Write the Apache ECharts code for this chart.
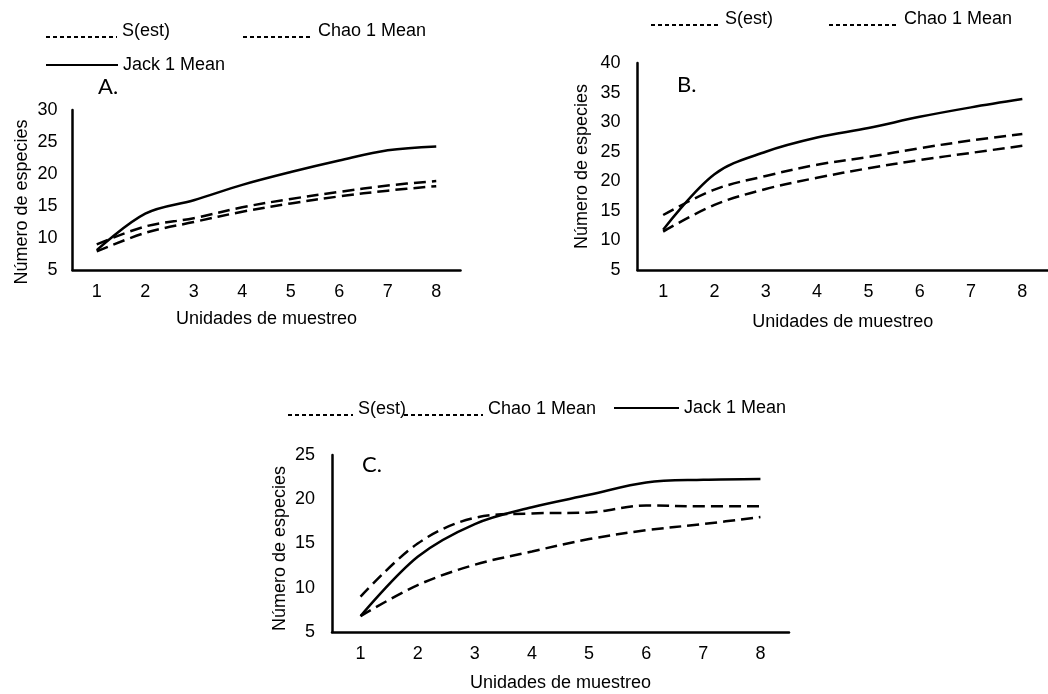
<!DOCTYPE html>
<html>
<head>
<meta charset="utf-8">
<script src="https://cdn.jsdelivr.net/npm/echarts@6/dist/echarts.min.js"></script>
<style>html,body{margin:0;padding:0;background:#fff}#c{width:1048px;height:694px}</style>
</head>
<body>
<div id="c"></div>
<script>
var categories = ['1', '2', '3', '4', '5', '6', '7', '8'];

var yTicksA = [5, 10, 15, 20, 25, 30];
var yTicksB = [5, 10, 15, 20, 25, 30, 35, 40];
var yTicksC = [5, 10, 15, 20, 25];

var sEstA = [7.9, 10.8, 12.5, 14.1, 15.4, 16.5, 17.4, 18.1];
var chaoA = [9.0, 11.8, 13.1, 14.8, 16.1, 17.2, 18.2, 18.9];
var jackA = [8.1, 13.8, 15.9, 18.3, 20.3, 22.1, 23.7, 24.3];

var sEstB = [11.5, 16.0, 18.7, 20.6, 22.2, 23.6, 24.8, 26.0];
var chaoB = [14.3, 18.6, 20.9, 22.8, 24.1, 25.6, 26.9, 28.0];
var jackB = [11.8, 21.2, 25.0, 27.4, 29.0, 30.9, 32.5, 33.9];

var sEstC = [6.8, 10.3, 12.6, 14.1, 15.5, 16.5, 17.2, 18.0];
var chaoC = [9.0, 15.0, 17.9, 18.4, 18.5, 19.3, 19.2, 19.2];
var jackC = [6.8, 13.5, 17.2, 19.1, 20.5, 21.9, 22.2, 22.3];

var FONT = 'Liberation Sans, Arial, sans-serif';
var FS = 18;

function xAx(idx, gap) {
  return {
    type: 'category', gridIndex: idx, data: categories, boundaryGap: true,
    axisTick: { show: false },
    axisLine: { lineStyle: { color: '#000', width: 2.5 } },
    axisLabel: { color: '#000', fontSize: FS, fontFamily: FONT, margin: 13 },
    name: 'Unidades de muestreo', nameLocation: 'middle', nameGap: gap,
    nameTextStyle: { color: '#000', fontSize: FS, fontFamily: FONT }
  };
}
function yAx(idx, ticks, gap, lm, shift) {
  return {
    type: 'value', gridIndex: idx, min: ticks[0], max: ticks[ticks.length - 1],
    interval: ticks[1] - ticks[0],
    splitLine: { show: false },
    axisTick: { show: false },
    axisLine: { show: true, lineStyle: { color: '#000', width: 2.5 } },
    axisLabel: { color: '#000', fontSize: FS, fontFamily: FONT, margin: lm },
    name: 'Número de especies', nameLocation: 'middle', nameGap: gap,
    nameTextStyle: { color: '#000', fontSize: FS, fontFamily: FONT, padding: [0, shift, 0, 0] }
  };
}
function ser(name, idx, data, dashed) {
  return {
    type: 'line', name: name, xAxisIndex: idx, yAxisIndex: idx, data: data,
    smooth: 0.35, symbol: 'none', silent: true,
    itemStyle: { color: '#000' },
    lineStyle: { color: '#000', width: 2.5, type: dashed ? [12, 6] : 'solid' }
  };
}
var hiddenSymbol = { color: 'rgba(0,0,0,0)', borderWidth: 0, opacity: 0 };
function dashLegend(name, left, top, w) {
  return {
    data: [name], left: left, top: top, padding: 0, itemWidth: w, itemHeight: 40,
    selectedMode: false,
    itemStyle: hiddenSymbol,
    lineStyle: { type: [4, 3], width: 2, color: '#000', opacity: 1 },
    formatter: '{a|{name}}',
    textStyle: { color: '#000', fontSize: FS, fontFamily: FONT, lineHeight: 20,
      rich: { a: { color: '#000', fontSize: FS, fontFamily: FONT, lineHeight: 20, padding: [0, 0, 11, 0] } } }
  };
}
function solidLegend(name, left, top, w) {
  return {
    data: [name], left: left, top: top, padding: 0, itemWidth: w, itemHeight: 14,
    selectedMode: false,
    itemStyle: hiddenSymbol,
    lineStyle: { type: 'solid', width: 2, color: '#000', opacity: 1 },
    textStyle: { color: '#000', fontSize: FS, fontFamily: FONT, lineHeight: 20 }
  };
}
function letter(t, left, top) {
  return { text: t, left: left, top: top, padding: 0,
    textStyle: { fontFamily: 'Lato, Open Sans, sans-serif', fontSize: 22, fontWeight: 'normal', color: '#000' } };
}

var option = {
  animation: false,
  backgroundColor: '#fff',
  textStyle: { fontFamily: FONT },
  title: [letter('A.', 98, 76), letter('B.', 677, 74), letter('C.', 362, 454)],
  legend: [
    dashLegend('S(est)', 45, 21, 71),
    dashLegend('Chao 1 Mean', 242, 21, 70),
    solidLegend('Jack 1 Mean', 45, 55, 72),
    dashLegend('S(est)', 650, 9, 69),
    dashLegend('Chao 1 Mean', 828, 9, 70),
    dashLegend('S(est)', 287, 399, 65),
    dashLegend('Chao 1 Mean', 403, 399, 79),
    solidLegend('Jack 1 Mean', 613, 398, 65)
  ],
  grid: [
    { left: 72.5, top: 110, width: 388, height: 160 },
    { left: 637.5, top: 63, width: 418.5, height: 207 },
    { left: 332, top: 455, width: 457, height: 177 }
  ],
  xAxis: [xAx(0, 40), xAx(1, 43), xAx(2, 42)],
  yAxis: [yAx(0, yTicksA, 41, 15, 24), yAx(1, yTicksB, 46, 17, 0), yAx(2, yTicksC, 43, 17, 10)],
  series: [
    ser('S(est)', 0, sEstA, true),
    ser('Chao 1 Mean', 0, chaoA, true),
    ser('Jack 1 Mean', 0, jackA, false),
    ser('S(est)', 1, sEstB, true),
    ser('Chao 1 Mean', 1, chaoB, true),
    ser('Jack 1 Mean', 1, jackB, false),
    ser('S(est)', 2, sEstC, true),
    ser('Chao 1 Mean', 2, chaoC, true),
    ser('Jack 1 Mean', 2, jackC, false)
  ]
};
var chart = echarts.init(document.getElementById('c'), null, { renderer: 'canvas' });
chart.setOption(option);
</script>
</body>
</html>
